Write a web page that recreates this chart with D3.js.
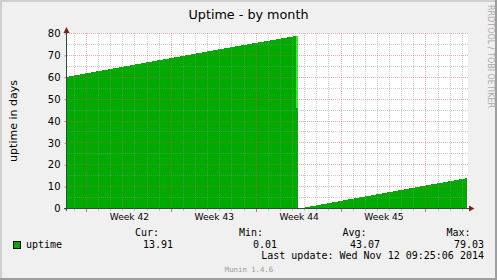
<!DOCTYPE html>
<html><head><meta charset="utf-8">
<script src="https://cdn.jsdelivr.net/npm/d3@7"></script>
<style>
html,body{margin:0;padding:0;background:#f0f0f0;}
svg{display:block;}
text{font-family:"DejaVu Sans",sans-serif;}
.mono{font-family:"DejaVu Sans Mono",monospace;}
</style></head><body>
<svg id="c" width="497" height="280"></svg>
<script>
// ---- data ----
const title = "Uptime - by month";
const yLabel = "uptime in days";
const seriesName = "uptime";
const domainStart = "2014-10-10T09:25:06Z";
const domainEnd = "2014-11-12T09:25:06Z";
const sampleTimes = ["2014-10-10T09:25:06Z","2014-10-15T00:00:00Z","2014-10-19T00:00:00Z","2014-10-24T00:00:00Z","2014-10-29T10:50:00Z",
                     "2014-10-29T12:50:00Z",
                     "2014-10-29T14:00:00Z","2014-11-03T00:00:00Z","2014-11-08T00:00:00Z","2014-11-12T09:25:06Z"];
const uptimeValues = [60.2, 64.8, 68.8, 73.8, 79.03,
                      null,
                      0.01, 4.5, 9.5, 13.91];
const peakTimes = ["2014-10-29T06:50:00Z","2014-10-29T10:50:00Z"];
const peakValues = [46, 79.03];
const yTicks = [0,10,20,30,40,50,60,70,80];
const yMinorTicks = [5,15,25,35,45,55,65,75];
const weekStarts = ["2014-10-12T00:00:00Z","2014-10-19T00:00:00Z","2014-10-26T00:00:00Z","2014-11-02T00:00:00Z","2014-11-09T00:00:00Z"];
const weekLabelTimes = ["2014-10-15T12:00:00Z","2014-10-22T12:00:00Z","2014-10-29T12:00:00Z","2014-11-05T12:00:00Z"];
const weekLabels = ["Week 42","Week 43","Week 44","Week 45"];
const statHeaders = ["Cur:","Min:","Avg:","Max:"];
const statValues = ["13.91","0.01","43.07","79.03"];
const lastUpdate = "Last update: Wed Nov 12 09:25:06 2014";
const footer = "Munin 1.4.6";
const watermark = "RRDTOOL / TOBI OETIKER";

// ---- drawing ----
const svg = d3.select("#c");
const W = 497, H = 280;
const x = d3.scaleUtc().domain([new Date(domainStart), new Date(domainEnd)]).range([67, 467]);
const y = d3.scaleLinear().domain([0, 80]).range([208.5, 33.5]);
const px = v => Math.floor(v) + 0.5;

// frame
svg.append("rect").attr("width", W).attr("height", H).attr("fill", "#f0f0f0");
svg.append("rect").attr("x",0).attr("y",0).attr("width",W).attr("height",2).attr("fill","#cfcfcf");
svg.append("rect").attr("x",0).attr("y",0).attr("width",2).attr("height",H).attr("fill","#cfcfcf");
svg.append("rect").attr("x",0).attr("y",H-2).attr("width",W).attr("height",2).attr("fill","#9e9e9e");
svg.append("rect").attr("x",W-2).attr("y",0).attr("width",2).attr("height",H).attr("fill","#9e9e9e");

// canvas
svg.append("rect").attr("x", 67).attr("y", 33).attr("width", 401).attr("height", 176).attr("fill", "#fff");

// area
const pts = sampleTimes.map((t, i) => ({t: new Date(t), v: uptimeValues[i]}));
const area = d3.area().defined(d => d.v != null)
  .x(d => x(d.t)).y0(y(0)).y1(d => y(d.v));
svg.append("path").datum(pts).attr("d", area).attr("fill", "#00aa00")
  .attr("shape-rendering", "crispEdges");
// bright edge at the peak
svg.append("rect")
  .attr("x", x(new Date(peakTimes[0]))).attr("width", x(new Date(peakTimes[1])) - x(new Date(peakTimes[0])))
  .attr("y", y(peakValues[1])).attr("height", y(peakValues[0]) - y(peakValues[1]))
  .attr("fill", "#2ef02e").attr("shape-rendering", "crispEdges");

// grid
const g = svg.append("g").attr("shape-rendering", "crispEdges");
const gridColor = "rgba(143,143,143,0.46)", mgridColor = "rgba(222,80,80,0.46)";
const days = d3.utcDay.range(new Date(domainStart), new Date(domainEnd));
const weekSet = new Set(weekStarts.map(s => +new Date(s)));
days.filter(d => !weekSet.has(+d)).forEach(d => {
  const xx = px(x(d));
  g.append("line").attr("x1", xx).attr("x2", xx).attr("y1", 33).attr("y2", 208)
    .attr("stroke", gridColor).attr("stroke-dasharray", "1,1");
  g.append("line").attr("x1", xx).attr("x2", xx).attr("y1", 208).attr("y2", 211).attr("stroke", gridColor);
});
yMinorTicks.forEach(v => {
  g.append("line").attr("x1", 67).attr("x2", 468).attr("y1", y(v)).attr("y2", y(v))
    .attr("stroke", gridColor).attr("stroke-dasharray", "1,1");
});
weekStarts.forEach(s => {
  const xx = px(x(new Date(s)));
  g.append("line").attr("x1", xx).attr("x2", xx).attr("y1", 33).attr("y2", 208)
    .attr("stroke", mgridColor).attr("stroke-dasharray", "1,1");
  g.append("line").attr("x1", xx).attr("x2", xx).attr("y1", 208).attr("y2", 212).attr("stroke", "rgba(222,80,80,0.8)");
});
yTicks.filter(v => v > 0).forEach(v => {
  g.append("line").attr("x1", 67).attr("x2", 468).attr("y1", y(v)).attr("y2", y(v))
    .attr("stroke", mgridColor).attr("stroke-dasharray", "1,1");
});

// y axis labels via d3 axis
const yAxis = svg.append("g").attr("transform", "translate(66.5,0)")
  .call(d3.axisLeft(y).tickValues(yTicks).tickSize(2).tickPadding(4).tickFormat(d3.format("d")));
yAxis.select(".domain").remove();
yAxis.selectAll(".tick line").attr("stroke", "rgba(222,80,80,0.8)");
yAxis.selectAll("text").attr("font-family", "DejaVu Sans").attr("font-size", "10px").attr("fill", "#000");

// x axis labels via d3 axis
const xAxis = svg.append("g").attr("transform", "translate(0,208.5)")
  .call(d3.axisBottom(x).tickValues(weekLabelTimes.map(s => new Date(s))).tickSize(0).tickPadding(5)
    .tickFormat((d, i) => weekLabels[i]));
xAxis.select(".domain").remove();
xAxis.selectAll("text").attr("font-family", "DejaVu Sans").attr("font-size", "9.1px").attr("fill", "#000");

// axis lines
svg.append("line").attr("x1", 64).attr("x2", 470).attr("y1", 208.5).attr("y2", 208.5).attr("stroke", "#2c4d43");
svg.append("line").attr("x1", 66.5).attr("x2", 66.5).attr("y1", 211).attr("y2", 30).attr("stroke", "#2c4d43");
svg.append("path").attr("d", "M469,205.5L474.5,208.5L469,211.5Z").attr("fill", "#7f1f1f");
svg.append("path").attr("d", "M63.5,33L66.5,27L69.5,33Z").attr("fill", "#7f1f1f");

// title
svg.append("text").attr("x", 248.5).attr("y", 18.5).attr("text-anchor", "middle")
  .attr("font-size", "12.75px").attr("fill", "#000").text(title);
// y label
svg.append("text").attr("transform", "translate(16.5,121) rotate(-90)").attr("text-anchor", "middle")
  .attr("font-size", "11px").attr("fill", "#000").text(yLabel);
// watermark
svg.append("text").attr("transform", "translate(488,5) rotate(90)").attr("text-anchor", "start")
  .attr("font-size", "8px").attr("fill", "#aaaaaa").text(watermark);

// legend
svg.append("rect").attr("x", 13.5).attr("y", 241.5).attr("width", 7).attr("height", 7)
  .attr("fill", "#00aa00").attr("stroke", "#000");
svg.append("text").attr("class", "mono").attr("x", 26).attr("y", 247.7).attr("font-size", "10px").text(seriesName);
const headerX = [159, 263, 366.5, 470.5];
const valueX = [173, 277, 380, 484];
statHeaders.forEach((h, i) => {
  svg.append("text").attr("class", "mono").attr("x", headerX[i]).attr("y", 236).attr("text-anchor", "end")
    .attr("font-size", "10px").text(h);
  svg.append("text").attr("class", "mono").attr("x", valueX[i]).attr("y", 247.7).attr("text-anchor", "end")
    .attr("font-size", "10px").text(statValues[i]);
});
svg.append("text").attr("class", "mono").attr("x", 484).attr("y", 259.3).attr("text-anchor", "end")
  .attr("font-size", "10px").text(lastUpdate);
svg.append("text").attr("class", "mono").attr("x", 249).attr("y", 271.7).attr("text-anchor", "middle")
  .attr("font-size", "7.3px").attr("fill", "#999").text(footer);
</script>
</body></html>
